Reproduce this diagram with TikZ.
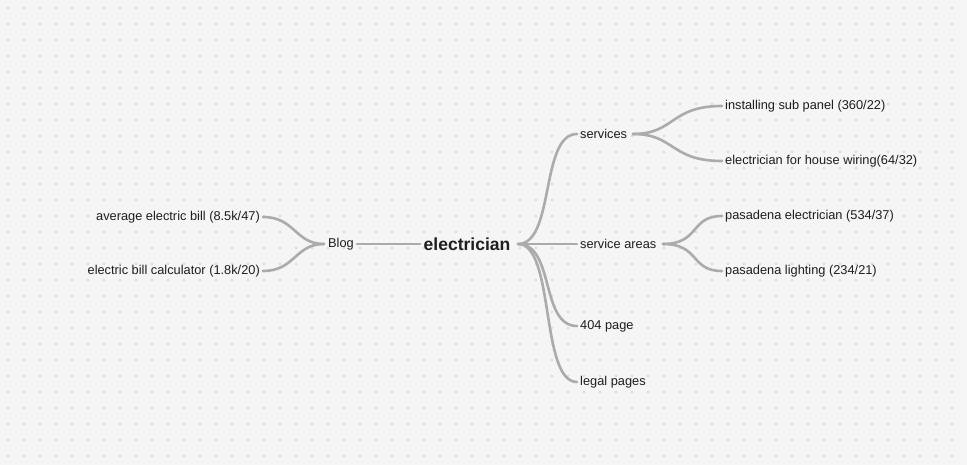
\documentclass[tikz,border=0pt]{standalone}
\usepackage{fontspec}
\setmainfont{Liberation Sans}
\definecolor{bg}{HTML}{F5F5F5}
\definecolor{dotc}{HTML}{BDBDBD}
\definecolor{linec}{HTML}{ABABAB}
\definecolor{txt}{HTML}{1E1E1E}
\begin{document}
\begin{tikzpicture}[x=1pt,y=-1pt,
  lbl/.style={font=\fontsize{12.8}{15}\selectfont,text=txt,inner sep=3pt},
  conn/.style={draw=linec,line width=2.6pt,line cap=round}]
\fill[bg] (0,0) rectangle (967,465);
\useasboundingbox (0,0) rectangle (967,465);
\foreach \x in {8,24,...,967} \foreach \y in {8,24,...,465} \fill[dotc] (\x,\y) circle (0.85);
\node[font=\bfseries\fontsize{17.5}{20}\selectfont,text=txt] (e) at (467,244) {electrician};
\node[lbl] (blog) at (341,244) {Blog};
\node[lbl,anchor=east] (avg) at (263,217) {average electric bill (8.5k/47)};
\node[lbl,anchor=east] (calc) at (263,271) {electric bill calculator (1.8k/20)};
\node[lbl,anchor=west] (srv) at (577,134) {services};
\node[lbl,anchor=west] (sub) at (722,106) {installing sub panel (360/22)};
\node[lbl,anchor=west] (wir) at (722,161) {electrician for house wiring(64/32)};
\node[lbl,anchor=west] (sa) at (577,244) {service areas};
\node[lbl,anchor=west] (pe) at (722,216) {pasadena electrician (534/37)};
\node[lbl,anchor=west] (pl) at (722,271) {pasadena lighting (234/21)};
\node[lbl,anchor=west] (p404) at (577,326) {404 page};
\node[lbl,anchor=west] (leg) at (577,382) {legal pages};
\coordinate (eR) at (518,244);
\coordinate (bL) at (324,244);
\coordinate (sR) at (633,134);
\coordinate (saR) at (663,244);
\draw[conn] (blog.east) -- (e.west);
\draw[conn] (bL) .. controls (295,244) and (295,217) .. (avg.east);
\draw[conn] (bL) .. controls (295,244) and (295,271) .. (calc.east);
\foreach \t in {srv,sa,p404,leg}
  \draw[conn] (eR) .. controls (555,244) and (540,0|-\t.west) .. (\t.west);
\draw[conn] (sR) .. controls (675,134) and (670,106) .. (sub.west);
\draw[conn] (sR) .. controls (675,134) and (670,161) .. (wir.west);
\draw[conn] (saR) .. controls (700,244) and (690,216) .. (pe.west);
\draw[conn] (saR) .. controls (700,244) and (690,271) .. (pl.west);
\end{tikzpicture}
\end{document}
